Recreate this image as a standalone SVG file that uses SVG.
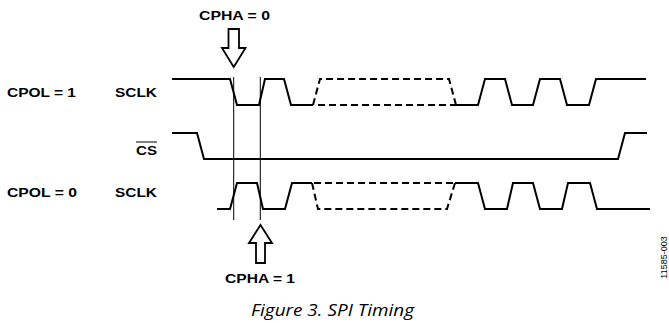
<svg xmlns="http://www.w3.org/2000/svg" width="669" height="323" viewBox="0 0 669 323">
<style>
.lbl{font-family:"Liberation Sans",Arial,sans-serif;font-weight:bold;font-size:13px;fill:#000}
.sig{fill:none;stroke:#000;stroke-width:2;stroke-linejoin:miter}
.dash{fill:none;stroke:#000;stroke-width:2;stroke-dasharray:7,4}
.thin{fill:none;stroke:#000;stroke-width:1}
.arrow{fill:#fff;stroke:#000;stroke-width:1.8;stroke-linejoin:miter}
.cap{font-family:"Open Sans","Noto Sans",sans-serif;font-style:italic;font-size:17px;fill:#000}
.code{font-family:"Liberation Sans",Arial,sans-serif;font-size:9px;fill:#000}
</style>
<rect width="669" height="323" fill="#fff"/>
<g id="labels">
<text class="lbl" x="7" y="97" textLength="69" lengthAdjust="spacingAndGlyphs">CPOL = 1</text>
<text class="lbl" x="115" y="97" textLength="42" lengthAdjust="spacingAndGlyphs">SCLK</text>
<text class="lbl" x="136" y="155" textLength="21" lengthAdjust="spacingAndGlyphs">CS</text>
<line class="thin" x1="136" y1="142" x2="157" y2="142" stroke-width="1.3"/>
<text class="lbl" x="7" y="197" textLength="70" lengthAdjust="spacingAndGlyphs">CPOL = 0</text>
<text class="lbl" x="115" y="197" textLength="42" lengthAdjust="spacingAndGlyphs">SCLK</text>
</g>
<g id="sclk-cpol1">
<path class="sig" d="M172,79 H230 L237,105 H259 L265,79 H284 L291,105 H313"/>
<path class="dash" d="M313,105 L320,79 H449 L456,105"/>
<path class="dash" d="M318,105 H456"/>
<path class="sig" d="M456,105 H478 L485,79 H505 L512,105 H533 L540,79 H560 L567,105 H589 L596,79 H646"/>
</g>
<g id="cs">
<path class="sig" d="M172,133 H197 L204,159 H618 L625,133 H647"/>
</g>
<g id="sclk-cpol0">
<path class="sig" d="M217,209 H230 L237,183 H257 L263,209 H285 L292,183 H312"/>
<path class="dash" d="M312,183 L318,209 H447 L455,183"/>
<path class="dash" d="M314,183 H455"/>
<path class="sig" d="M455,183 H478 L485,209 H507 L513,183 H533 L540,209 H562 L568,183 H590 L597,209 H650"/>
</g>
<g id="connectors">
<line class="thin" x1="233.7" y1="77" x2="233.7" y2="220"/>
<line class="thin" x1="260.3" y1="77" x2="260.3" y2="220"/>
</g>
<g id="cpha0">
<polygon class="arrow" points="228.5,29 239,29 239,48 245.5,48 233.7,67 222,48 228.5,48"/>
<text class="lbl" x="199" y="20" textLength="71" lengthAdjust="spacingAndGlyphs">CPHA = 0</text>
</g>
<g id="cpha1">
<polygon class="arrow" points="260.5,225 272,243 265,243 265,263 256,263 256,243 249,243"/>
<text class="lbl" x="225" y="283" textLength="70" lengthAdjust="spacingAndGlyphs">CPHA = 1</text>
</g>
<text class="cap" x="251" y="316" textLength="163" lengthAdjust="spacingAndGlyphs">Figure 3. SPI Timing</text>
<text class="code" transform="translate(667,257.5) rotate(-90)" text-anchor="middle">11585-003</text>
</svg>
